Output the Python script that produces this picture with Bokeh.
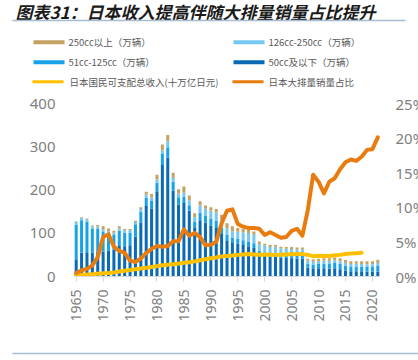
import math
from bokeh.plotting import figure
from bokeh.models import Range1d, FixedTicker, ColumnDataSource
from bokeh.layouts import column, row
from bokeh.core.properties import value
from bokeh.embed import file_html
from bokeh.resources import INLINE

# ---------------- data ----------------
years = list(range(1965, 2022))
cc50 = [40, 55, 56, 55, 58, 58, 60, 62, 72, 70, 72, 92, 125, 163, 157, 197, 258, 275, 198, 166,
        170, 152, 114, 130, 124, 118, 112, 98, 84, 79, 76, 73, 70, 66, 52, 48, 46, 46, 44, 43,
        42, 41, 41, 21, 19, 19, 19, 18, 19, 17, 14, 12, 12, 12, 11, 11, 11]
cc51_125 = [80, 75, 71, 56, 52, 45, 38, 34, 34, 31, 30, 29, 25, 19, 19, 20, 25, 24, 21, 17,
            15, 13, 12, 18, 16, 16, 17, 15, 12, 11, 11, 11, 11, 11, 8, 8, 8, 8, 8, 8,
            9, 9, 10, 9, 9, 10, 11, 11, 12, 12, 11, 11, 11, 11, 12, 12, 13]
cc126_250 = [7.4, 5.8, 5.5, 5.1, 5.7, 6.4, 6.2, 5.4, 5.7, 5.3, 5.5, 5.3, 5.8, 7.3, 7.4, 7.7, 8.9,
             13.6, 8.8, 8.7, 8.9, 11, 10.8, 16.1, 16.6, 18.6, 19.2, 19, 15.3, 14.7, 16.5, 18.1,
             19.4, 19.7, 15.4, 15.4, 14.3, 14.6, 13.1, 13.1, 12.5, 12.4, 12, 7.1, 6.1, 6.4, 7,
             7.2, 6.8, 6.5, 6.7, 6.1, 6.2, 5.9, 5.6, 5.6, 7.2]
cc250_up = [0.6, 1.2, 1.5, 1.9, 3.3, 6.6, 6.8, 4.6, 4.3, 3.7, 2.5, 2.7, 4.2, 6.7, 7.6, 10.3, 13.1,
            14.4, 12.2, 10.3, 14.1, 11, 9.2, 9.9, 7.4, 7.4, 7.8, 11, 11.7, 11.3, 8.5, 7.9, 7.6,
            7.3, 5.6, 4.6, 4.7, 4.4, 3.9, 3.9, 4.5, 4.6, 4.0, 3.9, 5.9, 5.6, 5.0, 5.8, 6.2, 6.5,
            6.3, 5.9, 5.8, 6.1, 6.4, 6.4, 7.8]
big_share = [0.5, 0.9, 1.1, 1.6, 2.8, 5.7, 6.1, 4.3, 3.7, 3.4, 2.3, 2.1, 2.6, 3.4, 4.0, 4.4, 4.3,
             4.4, 5.1, 5.1, 6.8, 5.9, 6.3, 5.7, 4.5, 4.6, 5.0, 7.7, 9.5, 9.7, 7.6, 7.2, 7.0, 7.0,
             6.9, 6.0, 6.4, 6.0, 5.6, 5.7, 6.6, 6.9, 5.9, 9.6, 14.7, 13.7, 12.0, 13.7, 14.2, 15.5,
             16.5, 16.9, 16.7, 17.3, 18.3, 18.4, 20.1]
income_years = list(range(1965, 2019))
income = [3, 4, 4.5, 5.5, 6.5, 7.5, 8.3, 9.5, 11.5, 13.5, 15, 17, 18.5, 20, 22, 24, 26, 27, 28.5,
          30, 32, 33, 35, 37.5, 40, 42, 44, 46.5, 47.5, 48.5, 50, 51, 52, 51, 50.5, 51, 50.5,
          50, 50.5, 51, 51.5, 52, 52, 50, 47, 48, 47.5, 47.5, 49, 50, 52, 53, 54, 55]

x_ticks = list(range(1965, 2021, 5))
left_ticks = [0, 100, 200, 300, 400]
right_ticks = [0, 5, 10, 15, 20, 25]

title_text = "图表31：日本收入提高伴随大排量销量占比提升"
legend_labels = ["250cc以上（万辆）", "126cc-250cc（万辆）", "51cc-125cc（万辆）",
                 "50cc及以下（万辆）", "日本国民可支配总收入(十万亿日元)", "日本大排量销量占比"]
source_text = "来源：日本自动车工业协会，国金证券研究所"

C_TAN, C_LIGHT, C_BRIGHT, C_DARK = "#C4A263", "#76C8F2", "#18A2E8", "#0B6AB5"
C_YEL, C_ORG = "#FFC000", "#E97C0F"
CJK = value("Noto Sans CJK SC")
W = 418
RULE = "#A6BDD3"


def blank(width, height, xr, yr):
    f = figure(width=width, height=height, x_range=xr, y_range=yr,
               toolbar_location=None, output_backend="svg", min_border=0,
               x_axis_location=None, y_axis_location=None, frame_align=False)
    f.grid.visible = False
    f.outline_line_color = None
    return f


# ---------------- header: title + legend ----------------
HH = 88
hdr = blank(W, HH, Range1d(0, W), Range1d(HH, 0))
hdr.text(x=[15], y=[10.5], text=[title_text], text_font=CJK, text_font_size="17px",
         text_font_style="bold italic", text_baseline="middle", text_color="#1a1a1a")
hdr.segment(x0=[12], y0=[20], x1=[405], y1=[20], line_color=RULE, line_width=1.5)

leg_cols = [C_TAN, C_LIGHT, C_BRIGHT, C_DARK, C_YEL, C_ORG]
leg_x0 = [33, 233, 33, 233, 32, 232]
leg_y = [41.7, 41.7, 61.7, 61.7, 81.2, 81.2]
leg_w = [4, 4, 4, 4, 3, 3]
for i in range(6):
    hdr.segment(x0=[leg_x0[i]], y0=[leg_y[i]], x1=[leg_x0[i] + 31], y1=[leg_y[i]],
                line_color=leg_cols[i], line_width=leg_w[i])
hdr.text(x=[68, 268, 68, 268, 69, 268], y=leg_y, text=legend_labels, text_font=CJK,
         text_font_size="9.5px", text_baseline="middle", text_color="#595959")

# ---------------- main chart ----------------
CH = 242
PLOT_L, PLOT_R = 73, 380
ZERO_Y, TOP_Y = 188, 15
ch = figure(width=PLOT_R, height=CH, x_range=Range1d(1964.5, 2021.5), y_range=Range1d(0, 400),
            toolbar_location=None, output_backend="svg", frame_align=False,
            min_border_left=PLOT_L, min_border_right=0, min_border_top=TOP_Y,
            min_border_bottom=CH - ZERO_Y)
ch.extra_y_ranges = {"pct": Range1d(0, 25)}
ch.grid.visible = False
ch.outline_line_color = None

src = ColumnDataSource(dict(x=years, a=cc50, b=cc51_125, c=cc126_250, d=cc250_up))
ch.vbar_stack(["a", "b", "c", "d"], x="x", width=0.56, source=src,
              fill_color=[C_DARK, C_BRIGHT, C_LIGHT, C_TAN], line_color=None)
ch.line(income_years, income, line_color=C_YEL, line_width=4, line_join="round", line_cap="round")
ch.line(years, big_share, y_range_name="pct", line_color=C_ORG, line_width=4,
        line_join="round", line_cap="round")

xa = ch.xaxis[0]
xa.ticker = FixedTicker(ticks=x_ticks)
xa.major_label_orientation = math.pi / 2
xa.major_label_text_font = "Noto Sans"
xa.major_label_text_font_size = "14px"
xa.major_label_text_color = "#7F7F7F"
xa.axis_line_color = "#D9D9D9"
xa.major_tick_line_color = "#D9D9D9"
xa.major_tick_out = 5
xa.major_tick_in = 0
xa.minor_tick_line_color = None
xa.major_label_standoff = 8

ya = ch.yaxis[0]
ya.ticker = FixedTicker(ticks=left_ticks)
ya.axis_line_color = None
ya.major_tick_line_color = None
ya.minor_tick_line_color = None
ya.major_tick_out = 0
ya.major_tick_in = 0
ya.major_label_standoff = 18
ya.major_label_text_font = "Noto Sans"
ya.major_label_text_font_size = "15px"
ya.major_label_text_color = "#7F7F7F"

# ---------------- right-hand percent scale ----------------
RW = W - PLOT_R
px_per_pct = (ZERO_Y - TOP_Y) / 25.0
rfig = blank(RW, CH, Range1d(0, RW),
             Range1d(-(CH - ZERO_Y) / px_per_pct, 25 + TOP_Y / px_per_pct))
rfig.text(x=[15] * len(right_ticks), y=right_ticks, text=[f"{v}%" for v in right_ticks],
          text_font=value("Noto Sans"), text_font_size="15px", text_color="#7F7F7F",
          text_baseline="middle", text_align="left")

# ---------------- footer ----------------
ftr = blank(W, 30, Range1d(0, W), Range1d(30, 0))
ftr.segment(x0=[12], y0=[23], x1=[W], y1=[23], line_color=RULE, line_width=1.5)
ftr.text(x=[15], y=[29.9], text=[source_text], text_font=CJK, text_font_size="12px",
         text_baseline="top", text_color="#222222")

layout = column(hdr, row(ch, rfig, spacing=0), ftr, spacing=0)
open("out.html", "w").write(file_html(layout, INLINE))
